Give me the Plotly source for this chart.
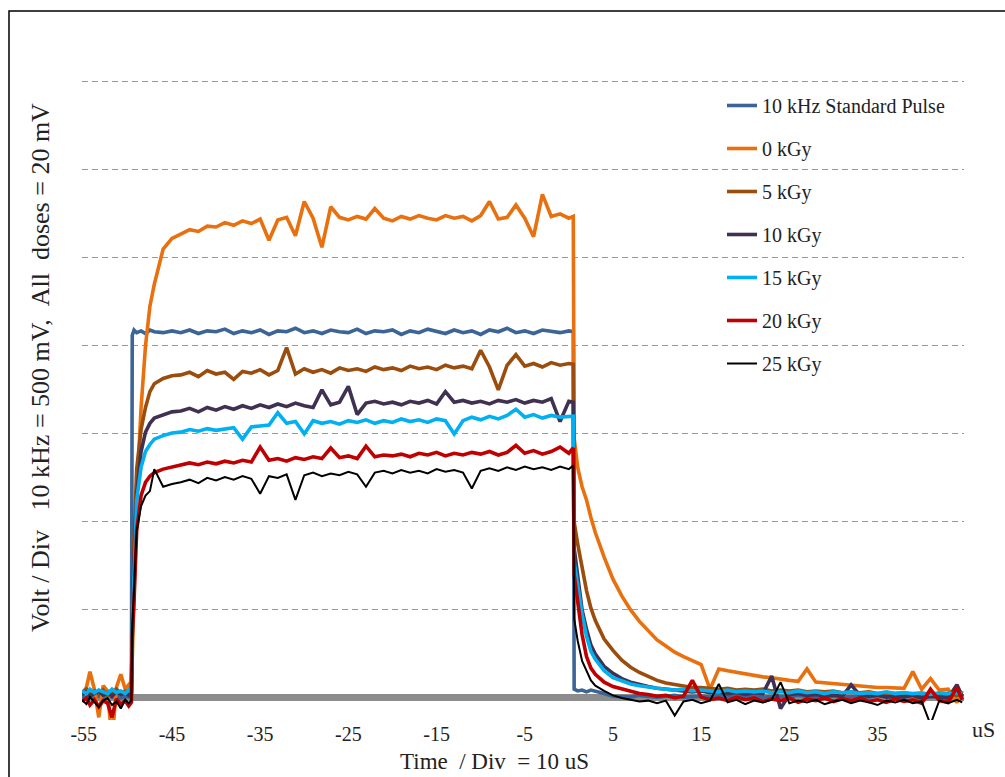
import plotly.graph_objects as go

# time axis (uS)
TIME = [-55.2, -54.7, -54.3, -53.8, -53.3, -52.8, -52.3, -51.8, -51.3, -50.8, -50.3, -49.9, -49.6,
        -49.5, -49.3, -49.0, -48.5, -48.0, -47.5, -47.0, -46.0, -45.0,
        -44, -43, -42, -41, -40, -39, -38, -37, -36, -35,
        -34, -33, -32, -31, -30, -29, -28, -27, -26, -25,
        -24, -23, -22, -21, -20, -19, -18, -17, -16, -15,
        -14, -13, -12, -11, -10, -9, -8, -7, -6, -5,
        -4, -3, -2, -1, 0,
        0.5, 0.6, 1.0, 1.5, 2.0, 2.5, 3.0, 4.0, 5.0,
        6, 7, 8, 9, 10, 11, 12, 13, 14, 15,
        16, 17, 18, 19, 20, 21, 22, 23, 24, 25,
        26, 27, 28, 29, 30, 31, 32, 33, 34, 35,
        36, 37, 38, 39, 40, 41, 42, 43, 44, 44.6]

# values in divisions
STD_PULSE = [0.02, 0.0, 0.03, 0.01, 0.02, 0.0, 0.03, 0.01, 0.02, 0.0, 0.02, 0.01, 0.02,
             4.12, 4.18, 4.15, 4.17, 4.14, 4.18, 4.16, 4.15, 4.17,
             4.15, 4.18, 4.14, 4.17, 4.16, 4.19, 4.14, 4.17, 4.15, 4.18,
             4.13, 4.17, 4.16, 4.2, 4.15, 4.17, 4.14, 4.18, 4.16, 4.15,
             4.19, 4.14, 4.17, 4.16, 4.18, 4.13, 4.17, 4.15, 4.19, 4.16,
             4.14, 4.18, 4.15, 4.17, 4.13, 4.18, 4.16, 4.2, 4.15, 4.17,
             4.14, 4.18, 4.16, 4.15, 4.17,
             4.16, 0.1, 0.08, 0.09, 0.07, 0.09, 0.08, 0.05, 0.02,
             0.02, 0.01, 0.03, 0.02, 0.01, 0.02, 0.03, 0.01, 0.02, 0.02,
             0.01, 0.03, 0.02, 0.01, 0.02, 0.03, 0.01, 0.02, 0.02, 0.01,
             0.03, 0.02, 0.01, 0.02, 0.03, 0.01, 0.02, 0.02, 0.01, 0.03,
             0.02, 0.01, 0.02, 0.03, 0.01, 0.02, 0.02, 0.01, 0.03, 0.02]

KGY_0 = [0.05, 0.12, 0.3, 0.1, -0.22, 0.14, 0.08, -0.5, 0.12, 0.27, 0.1, 0.15, 0.08,
         0.5, 1.4, 2.3, 3.3, 4.0, 4.45, 4.7, 5.1, 5.22,
         5.27, 5.32, 5.3, 5.36, 5.35, 5.4, 5.37, 5.42, 5.39, 5.44,
         5.2, 5.43, 5.46, 5.25, 5.64, 5.45, 5.12, 5.58, 5.46, 5.43,
         5.47, 5.44, 5.56, 5.45, 5.42, 5.47, 5.44, 5.48, 5.45, 5.43,
         5.48, 5.45, 5.47, 5.42, 5.48, 5.64, 5.44, 5.46, 5.6, 5.45,
         5.24, 5.72, 5.47, 5.5, 5.45,
         5.47, 2.95, 2.62, 2.4, 2.25, 2.05, 1.88, 1.6, 1.35,
         1.16, 1.0, 0.87, 0.76, 0.66, 0.59, 0.52, 0.47, 0.42, 0.38,
         0.1, 0.33, 0.31, 0.29, 0.27, 0.26, 0.24, 0.23, 0.21, 0.2,
         0.19, 0.33, 0.18, 0.17, 0.16, 0.15, 0.14, 0.14, 0.13, 0.12,
         0.12, 0.11, 0.11, 0.3, 0.1, 0.22, 0.09, 0.1, -0.05, 0.08]

KGY_5 = [0.06, 0.1, 0.04, 0.08, 0.05, 0.09, 0.03, 0.07, 0.1, 0.05, 0.08, 0.06, 0.07,
         0.8, 1.8, 2.6, 3.05, 3.3, 3.48, 3.57, 3.63, 3.66,
         3.67, 3.7, 3.65, 3.72, 3.68, 3.7, 3.62, 3.71, 3.69, 3.73,
         3.67, 3.72, 3.98, 3.68, 3.74, 3.7, 3.73, 3.69, 3.75, 3.72,
         3.74, 3.71, 3.76, 3.73, 3.75, 3.72, 3.77, 3.74, 3.76, 3.73,
         3.78, 3.75, 3.77, 3.74, 3.95, 3.76, 3.5, 3.78, 3.9, 3.77,
         3.8, 3.76, 3.81, 3.78, 3.8,
         3.79, 2.0, 1.75, 1.48, 1.22, 1.02, 0.88, 0.67, 0.54,
         0.43, 0.35, 0.29, 0.24, 0.2, 0.17, 0.15, 0.14, 0.12, 0.12,
         0.11, 0.1, 0.11, 0.09, 0.1, 0.09, 0.1, 0.08, 0.09, 0.08,
         0.09, 0.07, 0.08, 0.07, 0.08, 0.06, 0.07, 0.06, 0.07, 0.05,
         0.06, 0.05, 0.06, 0.04, -0.05, 0.05, 0.04, 0.05, 0.03, 0.04]

KGY_10 = [0.04, 0.07, 0.02, 0.05, 0.08, 0.03, 0.06, 0.02, 0.07, 0.04, 0.06, 0.03, 0.05,
          0.8, 1.6, 2.3, 2.8, 3.02, 3.12, 3.18, 3.22, 3.25,
          3.26, 3.29, 3.25, 3.3, 3.27, 3.31, 3.28, 3.32, 3.29, 3.33,
          3.3, 3.34, 3.31, 3.35, 3.32, 3.3, 3.5, 3.33, 3.36, 3.54,
          3.22, 3.35, 3.37, 3.34, 3.36, 3.33, 3.37, 3.35, 3.38, 3.34,
          3.48, 3.36, 3.38, 3.35, 3.37, 3.34, 3.38, 3.36, 3.39, 3.35,
          3.38, 3.36, 3.4, 3.14, 3.37,
          3.36, 1.7, 1.35, 1.0, 0.78, 0.6, 0.5, 0.36, 0.28,
          0.22, 0.18, 0.15, 0.13, 0.11, 0.1, 0.09, 0.08, 0.07, 0.08,
          0.06, 0.07, 0.05, 0.06, 0.04, 0.06, 0.05, 0.25, -0.12, 0.04,
          0.05, 0.03, 0.04, 0.02, 0.03, 0.02, 0.15, 0.03, 0.02, 0.03,
          0.01, 0.02, 0.01, 0.03, 0.0, 0.02, 0.01, 0.0, 0.15, 0.02]

KGY_15 = [0.08, 0.05, 0.1, 0.06, 0.09, 0.07, 0.05, 0.1, 0.06, 0.08, 0.05, 0.09, 0.07,
          0.8, 1.5, 2.25, 2.62, 2.8, 2.88, 2.94, 2.98, 3.01,
          3.02, 3.05, 3.03, 3.06, 3.04, 3.05, 3.07, 2.94, 3.08, 3.09,
          3.1, 3.24, 3.12, 3.14, 3.0, 3.15, 3.12, 3.14, 3.11, 3.15,
          3.13, 3.16, 3.12, 3.15, 3.13, 3.17, 3.14, 3.16, 3.13, 3.17,
          3.15, 3.0, 3.15, 3.19, 3.16, 3.2, 3.17, 3.21, 3.28, 3.19,
          3.22, 3.18, 3.21, 3.19, 3.2,
          3.2, 1.55, 1.28, 0.95, 0.7, 0.53, 0.44, 0.31, 0.23,
          0.19, 0.16, 0.14, 0.12, 0.11, 0.1, 0.09, 0.1, 0.08, 0.09,
          0.08, 0.07, 0.09, 0.07, 0.08, 0.07, 0.08, 0.06, 0.07, 0.06,
          0.08, 0.06, 0.07, 0.05, 0.07, 0.06, 0.07, 0.05, 0.06, 0.05,
          0.07, 0.05, 0.06, 0.05, 0.06, 0.04, 0.06, 0.05, 0.06, 0.05]

KGY_20 = [-0.04, 0.0, -0.08, -0.02, -0.1, -0.03, -0.06, -0.22, -0.01, -0.07, -0.03, -0.09, -0.05,
          0.7, 1.1, 1.9, 2.3, 2.45, 2.52, 2.56, 2.6, 2.62,
          2.64, 2.67, 2.65, 2.68, 2.66, 2.69, 2.67, 2.7, 2.68, 2.85,
          2.7, 2.72, 2.69, 2.73, 2.71, 2.74, 2.72, 2.84, 2.73, 2.75,
          2.72, 2.86, 2.74, 2.76, 2.75, 2.77, 2.74, 2.78, 2.76, 2.79,
          2.75, 2.78, 2.76, 2.79, 2.77, 2.8, 2.76, 2.79, 2.87, 2.78,
          2.81, 2.77, 2.8, 2.85, 2.78,
          2.84, 1.4, 1.1, 0.72, 0.47, 0.34, 0.27, 0.18, 0.13,
          0.1, 0.07, 0.05, 0.04, 0.02, 0.03, 0.0, 0.02, 0.2, 0.01,
          -0.02, 0.0, -0.03, 0.01, -0.02, 0.0, -0.04, -0.01, -0.03, 0.0,
          -0.05, -0.01, -0.03, 0.0, -0.04, -0.01, -0.03, 0.0, -0.04, -0.02,
          -0.05, -0.01, -0.04, -0.02, -0.06, 0.1, -0.03, -0.05, 0.12, -0.02]

KGY_25 = [-0.02, -0.07, 0.01, -0.05, -0.1, -0.03, 0.0, -0.08, -0.04, -0.12, -0.02, -0.06, -0.03,
          0.8, 1.2, 1.9, 2.18, 2.3, 2.35, 2.6, 2.4, 2.43,
          2.45, 2.48, 2.44, 2.5, 2.47, 2.51, 2.48, 2.52, 2.49, 2.32,
          2.52, 2.5, 2.54, 2.25, 2.53, 2.56, 2.52, 2.55, 2.53, 2.57,
          2.54, 2.4, 2.56, 2.58, 2.55, 2.59, 2.56, 2.58, 2.55, 2.6,
          2.57, 2.59, 2.56, 2.38, 2.58, 2.61, 2.58, 2.62, 2.59, 2.63,
          2.6, 2.62, 2.59, 2.63, 2.6,
          2.64, 0.9, 0.65, 0.42, 0.3, 0.2, 0.14, 0.08, 0.03,
          0.0, -0.02, -0.04, -0.03, -0.06, -0.03, -0.2, -0.04, -0.02, -0.06,
          -0.03, 0.16, -0.05, -0.02, -0.07, -0.03, -0.05, -0.02, 0.18, -0.06,
          -0.03, -0.05, -0.02, -0.07, -0.04, -0.02, -0.06, -0.03, -0.05, -0.08,
          -0.03, -0.05, -0.02, -0.06, -0.04, -0.3, -0.03, -0.06, -0.02, -0.05]

SERIES = [
    ("10 kHz Standard Pulse", STD_PULSE, "#3C6496", 3.6),
    ("0 kGy", KGY_0, "#E8700F", 3.6),
    ("5 kGy", KGY_5, "#9A4D0C", 3.6),
    ("10 kGy", KGY_10, "#403152", 3.6),
    ("15 kGy", KGY_15, "#00B0F0", 3.6),
    ("20 kGy", KGY_20, "#C00000", 3.6),
    ("25 kGy", KGY_25, "#000000", 2.0),
]

X_TICKS = [-55, -45, -35, -25, -15, -5, 5, 15, 25, 35]
X_TICK_TEXT = ["-55", "-45", "-35", "-25", "-15", "-5", "5", "15", "25", "35"]

SERIF = "Liberation Serif"

fig = go.Figure()
for i, (name, vals, color, w) in enumerate(SERIES):
    assert len(vals) == len(TIME), (name, len(vals), len(TIME))
    fig.add_trace(go.Scatter(x=TIME, y=vals, mode="lines", name=name,
                             legendgroup=f"g{i}",
                             line=dict(color=color, width=w)))

L, R, T, B = 82, 41, 80, 57
W, H = 1005, 777
pw, ph = W - L - R, H - T - B

def px(x):
    return (x - L) / pw

def py(y):
    return (H - B - y) / ph

fig.update_layout(
    width=W, height=H,
    margin=dict(l=L, r=R, t=T, b=B),
    paper_bgcolor="white", plot_bgcolor="white",
    font=dict(family=SERIF, color="#222222"),
    showlegend=True,
    legend=dict(x=px(722), y=py(86), xanchor="left", yanchor="top",
                font=dict(family=SERIF, size=20, color="#222222"),
                traceorder="grouped", tracegroupgap=14,
                bgcolor="rgba(0,0,0,0)"),
    xaxis=dict(range=[-55.2, 44.8], tickvals=X_TICKS, ticktext=X_TICK_TEXT,
               showgrid=False, zeroline=False, showline=False, ticks="",
               tickfont=dict(family=SERIF, size=20, color="#222222")),
    yaxis=dict(range=[-0.25, 7.02], dtick=1, tick0=0,
               showgrid=True, gridcolor="#9a9a9a", gridwidth=1, griddash="6px,4px",
               showticklabels=False, ticks="", showline=False,
               zeroline=True, zerolinecolor="#8c8c8c", zerolinewidth=7,
               layer="below traces"),
    annotations=[
        dict(text="Volt / Div\u00a0\u00a0\u00a010 kHz = 500 mV,\u00a0\u00a0All\u00a0\u00a0doses = 20 mV",
             x=px(40), y=py(368), xref="paper", yref="paper", textangle=-90,
             showarrow=False, xanchor="center", yanchor="middle",
             font=dict(family=SERIF, size=26, color="#222222")),
        dict(text="Time\u00a0\u00a0/ Div\u00a0\u00a0= 10 uS",
             x=px(494), y=py(761), xref="paper", yref="paper",
             showarrow=False, xanchor="center", yanchor="middle",
             font=dict(family=SERIF, size=23, color="#222222")),
        dict(text="uS", x=px(983), y=py(729), xref="paper", yref="paper",
             showarrow=False, xanchor="center", yanchor="middle",
             font=dict(family=SERIF, size=22, color="#222222")),
    ],
    shapes=[dict(type="rect", xref="paper", yref="paper",
                 x0=px(9), x1=px(1012), y0=py(790), y1=py(11),
                 line=dict(color="#000000", width=1.5))],
)

fig.write_html("out.html")
